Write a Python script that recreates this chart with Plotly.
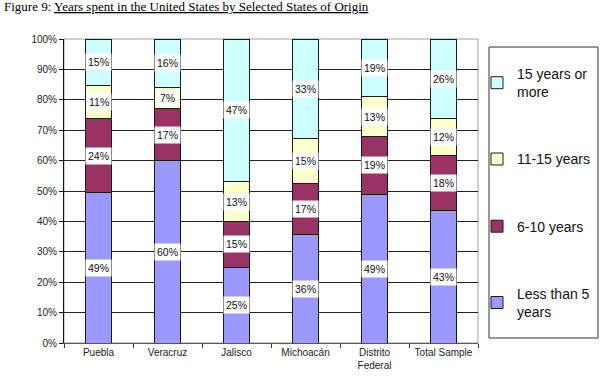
import plotly.graph_objects as go

categories = ["Puebla", "Veracruz", "Jalisco", "Michoacán", "Distrito<br>Federal", "Total Sample"]
series_names = ["Less than 5<br>years", "6-10 years", "11-15 years", "15 years or<br>more"]
less_than_5 = [49, 60, 25, 36, 49, 43]
six_to_10 = [24, 17, 15, 17, 19, 18]
eleven_to_15 = [11, 7, 13, 15, 13, 12]
fifteen_plus = [15, 16, 47, 33, 19, 26]
y_ticks = [0, 10, 20, 30, 40, 50, 60, 70, 80, 90, 100]
y_tick_labels = [f"{v}%" for v in y_ticks]

series_values = [less_than_5, six_to_10, eleven_to_15, fifteen_plus]
colors = ["#9999FF", "#993366", "#FFFFCC", "#CCFFFF"]

W, H = 600, 378
L, R, T, B = 64, 600 - 478, 39, 378 - 343
PW = W - L - R
PH = H - T - B

def px_x(x):
    return (x - L) / PW

def px_y(y):
    return (H - B - y) / PH

fig = go.Figure()
n = len(series_names)
for k, (name, vals, col) in enumerate(zip(series_names, series_values, colors)):
    fig.add_trace(go.Bar(
        x=categories, y=vals, name=name, legendgroup=name, legendrank=n - k,
        marker=dict(color=col, line=dict(color="#1a1a1a", width=1)),
        width=0.39,
    ))

# data labels with white boxes, centred in each normalised segment
annotations = []
for i, cat in enumerate(categories):
    total = sum(s[i] for s in series_values)
    cum = 0.0
    for s in series_values:
        v = s[i]
        mid = (cum + v / 2) / total * 100
        cum += v
        annotations.append(dict(
            x=cat, y=mid, xref="x", yref="y", text=f"{v}%", showarrow=False,
            font=dict(family="Liberation Sans, Arial", size=10.5, color="#111"),
            bgcolor="white", borderpad=2,
        ))

annotations.append(dict(
    text="Figure 9: <u>Years spent in the United States by Selected States of Origin</u>",
    font=dict(family="Liberation Serif, Times New Roman", size=13, color="#000"),
    xref="paper", yref="paper", x=px_x(2), xanchor="left",
    y=px_y(7), yanchor="middle", showarrow=False,
))

fig.update_layout(
    barmode="stack", barnorm="percent",
    width=W, height=H,
    margin=dict(l=L, r=R, t=T, b=B, autoexpand=False),
    paper_bgcolor="white", plot_bgcolor="white",
    showlegend=True,
    legend=dict(
        traceorder="grouped", tracegroupgap=46,
        x=px_x(477), xanchor="left", y=px_y(58), yanchor="top",
        font=dict(family="Liberation Sans, Arial", size=14, color="#111"),
        bgcolor="rgba(0,0,0,0)", itemwidth=30,
    ),
    annotations=annotations,
    shapes=[
        dict(type="rect", xref="paper", yref="paper", x0=0, x1=1, y0=0, y1=1,
             line=dict(color="#a0a0a0", width=1), layer="below"),
        dict(type="rect", xref="paper", yref="paper",
             x0=px_x(489), x1=px_x(598), y0=px_y(338), y1=px_y(47),
             line=dict(color="#333", width=1)),
    ],
)
fig.update_yaxes(
    range=[0, 100], tickvals=y_ticks, ticktext=y_tick_labels,
    showgrid=True, gridcolor="#222", gridwidth=1,
    showline=True, linecolor="#111", linewidth=1,
    ticks="outside", ticklen=4, tickcolor="#111",
    tickfont=dict(family="Liberation Sans, Arial", size=10, color="#222"),
    zeroline=False, automargin=False,
)
fig.update_xaxes(
    showline=True, linecolor="#555", linewidth=1,
    ticks="outside", tickson="boundaries", ticklen=4, tickcolor="#333",
    tickangle=0, automargin=False,
    tickfont=dict(family="Liberation Sans, Arial", size=10, color="#222"),
    showgrid=False,
)

fig.write_html(
    "out.html",
    config={"displayModeBar": False},
    post_script="document.body.style.margin='0px';document.body.style.overflow='hidden';",
)
